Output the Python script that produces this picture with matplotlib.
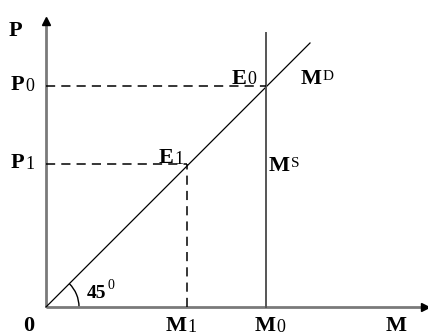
import matplotlib
matplotlib.use('Agg')
import matplotlib.pyplot as plt
from matplotlib.patches import Arc

# Values on the axes (45 degree line: P = M)
m_levels = [1.41, 2.20]      # M1, M0
p_levels = [1.43, 2.21]      # P1, P0
md_end = 2.64                # end of the M^D line
ms_top = 2.74                # top of the M^S line
angle_deg = 45

plt.rcParams['font.family'] = ['Liberation Serif', 'DejaVu Serif']

fig = plt.figure(figsize=(4.28, 3.36), dpi=100)
ax = fig.add_axes([0, 0, 1, 1])
ax.set_xlim(-0.46, 3.82)
ax.set_ylim(-0.29, 3.07)
ax.axis('off')


def px(x, y):
    # pixel position in the picture -> data coordinates
    return (x - 46) / 100.0, (307 - y) / 100.0


axis_col = '#7a7a7a'
# axes
ax.plot([0, 0], [0, 2.86], color=axis_col, lw=2, solid_capstyle='butt')
ax.plot([0, 3.78], [0, 0], color=axis_col, lw=2, solid_capstyle='butt')
ax.plot([0], [2.86], marker='^', color='black', ms=6, clip_on=False)
ax.plot([3.79], [0], marker='>', color='black', ms=6, clip_on=False)

# M^D : 45 degree line
ax.plot([0, md_end], [0, md_end], color='black', lw=0.9)
# M^S : vertical line at M0
ax.plot([m_levels[1], m_levels[1]], [0, ms_top], color='#555555', lw=1.4)

dash = (0, (6, 4))
ax.plot([0, m_levels[1]], [p_levels[1], p_levels[1]], color='black', lw=1.1, linestyle=dash)
ax.plot([0, m_levels[0]], [p_levels[0], p_levels[0]], color='black', lw=1.1, linestyle=dash)
ax.plot([m_levels[0], m_levels[0]], [0, p_levels[0]], color='black', lw=1.1, linestyle=dash)

# angle arc
ax.add_patch(Arc((0, 0), 0.66, 0.66, theta1=0, theta2=angle_deg, color='black', lw=1))

big = dict(fontsize=16, fontweight='bold', color='black')


def label(main, sub, x, y, raise_px=0, sub_size=13):
    t = ax.text(*px(x, y), main, ha='left', va='baseline', **big)
    if sub:
        ax.annotate(sub, xy=(1, 0), xycoords=t, xytext=(0.5, raise_px),
                    textcoords='offset points', ha='left', va='bottom',
                    fontsize=sub_size, color='black')


label('P', None, 9, 36)
label('P', '0', 11, 90)
label('P', '1', 11, 168)
label('E', '0', 232, 84, 1)
label('M', 'D', 301, 84, 4, 11)
label('E', '1', 159, 163)
label('M', 'S', 269, 171, 4, 11)
t45 = ax.text(*px(87, 298), '45', ha='left', va='baseline', fontsize=14, fontweight='bold')
ax.annotate('0', xy=(1, 0), xycoords=t45, xytext=(1, 7), textcoords='offset points',
            ha='left', va='bottom', fontsize=10)
label('0', None, 23, 331)
label('M', '1', 166, 331)
label('M', '0', 255, 331)
label('M', None, 386, 331)

fig.savefig('out.png', dpi=100)
